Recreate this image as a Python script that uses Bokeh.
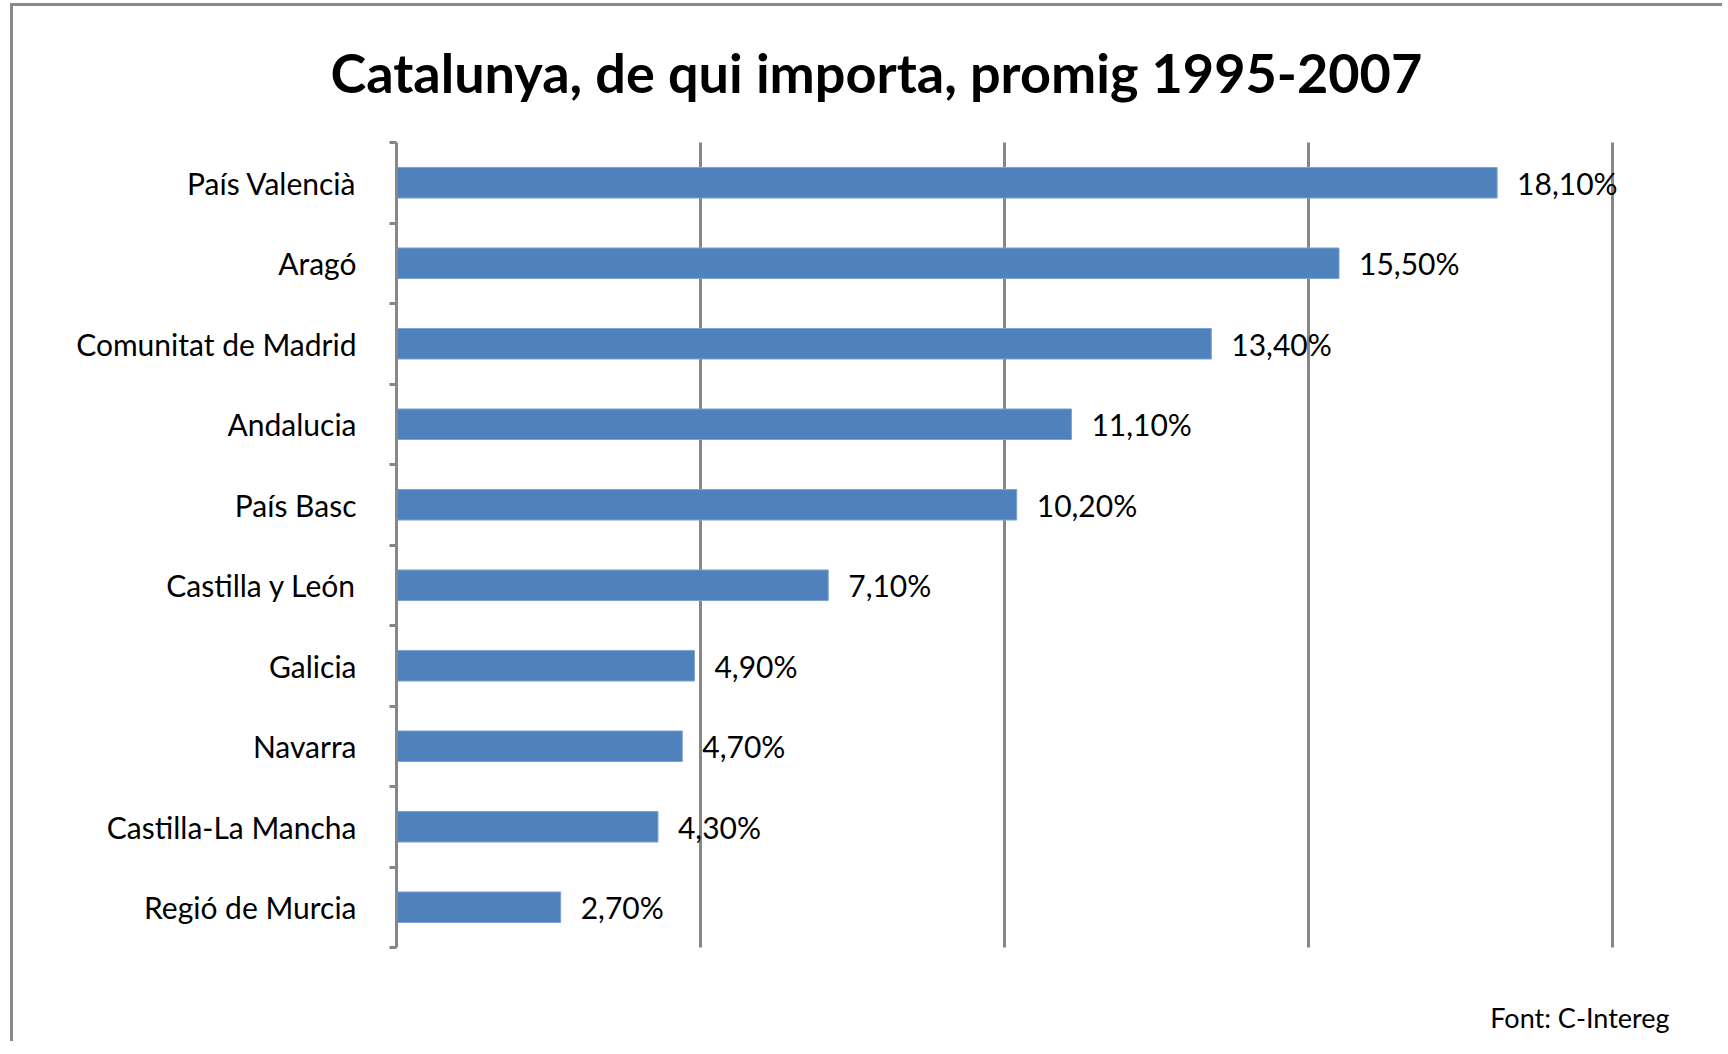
from bokeh.plotting import figure
from bokeh.models import Range1d, FixedTicker, LinearAxis, Title
from bokeh.core.properties import value
from bokeh.embed import file_html
from bokeh.resources import INLINE

# ---- data ----
regions = ["País Valencià", "Aragó", "Comunitat de Madrid", "Andalucia", "País Basc",
           "Castilla y León", "Galicia", "Navarra", "Castilla-La Mancha", "Regió de Murcia"]
shares = [18.1, 15.5, 13.4, 11.1, 10.2, 7.1, 4.9, 4.7, 4.3, 2.7]
share_labels = ["18,10%", "15,50%", "13,40%", "11,10%", "10,20%",
                "7,10%", "4,90%", "4,70%", "4,30%", "2,70%"]
grid_ticks = [5, 10, 15, 20]
title_text = "Catalunya, de qui importa, promig 1995-2007"
source_text = "Font:  C-Intereg"

FONT = "Lato"
GRAY = "#878787"

positions = [i + 0.5 for i in range(len(regions))]
boundaries = list(range(len(regions) + 1))

p = figure(width=1712, height=1038, output_backend="svg", toolbar_location=None,
           x_range=Range1d(0, 21.05), y_range=Range1d(len(regions), 0),
           x_axis_location=None, y_axis_location=None,
           min_border_left=383, min_border_right=49, min_border_top=134, min_border_bottom=97)
p.outline_line_color = None
p.background_fill_color = "white"
p.border_fill_color = "white"
p.styles = {"border-left": "3px solid #8a8a8a", "border-top": "3px solid #8a8a8a",
            "margin-left": "10px", "margin-top": "3px"}

# grid
p.xgrid.ticker = FixedTicker(ticks=grid_ticks)
p.xgrid.grid_line_color = GRAY
p.xgrid.grid_line_width = 3
p.xgrid.grid_line_cap = "round"
p.ygrid.grid_line_color = None

# y axis with labels at centers and ticks at boundaries
yaxis = LinearAxis(ticker=FixedTicker(ticks=positions, minor_ticks=boundaries),
                   major_label_overrides={pos: name for pos, name in zip(positions, regions)})
yaxis.axis_line_color = GRAY
yaxis.axis_line_width = 3
yaxis.major_tick_line_color = None
yaxis.major_tick_out = 0
yaxis.major_tick_in = 0
yaxis.minor_tick_line_color = GRAY
yaxis.minor_tick_line_width = 3
yaxis.minor_tick_out = 7
yaxis.minor_tick_in = 0
yaxis.major_label_standoff = 33
yaxis.major_label_text_font = FONT
yaxis.major_label_text_font_size = "30px"
yaxis.major_label_text_color = "black"
p.add_layout(yaxis, "left")

# bars
p.hbar(y=positions, right=shares, left=0, height=0.38,
       fill_color="#4F81BD", line_color="#7FA3D2", line_width=1)

# data labels
p.text(x=shares, y=positions, text=share_labels, x_offset=20,
       text_font=value(FONT), text_font_size="30px", text_color="black",
       text_align="left", text_baseline="middle")

# title
t = Title(text=title_text, align="left", offset=-66, standoff=63,
          padding=dict(left=0, right=0, top=0, bottom=6),
          text_font=FONT, text_font_size="54px", text_font_style="bold", text_color="black")
p.add_layout(t, "above")

# source note below the plot area
src = Title(text=source_text, align="right", standoff=6,
            padding=dict(left=0, right=0, top=48, bottom=0),
            text_font=FONT, text_font_size="27px", text_font_style="normal", text_color="black")
p.add_layout(src, "below")

open("out.html", "w").write(file_html(p, INLINE))
